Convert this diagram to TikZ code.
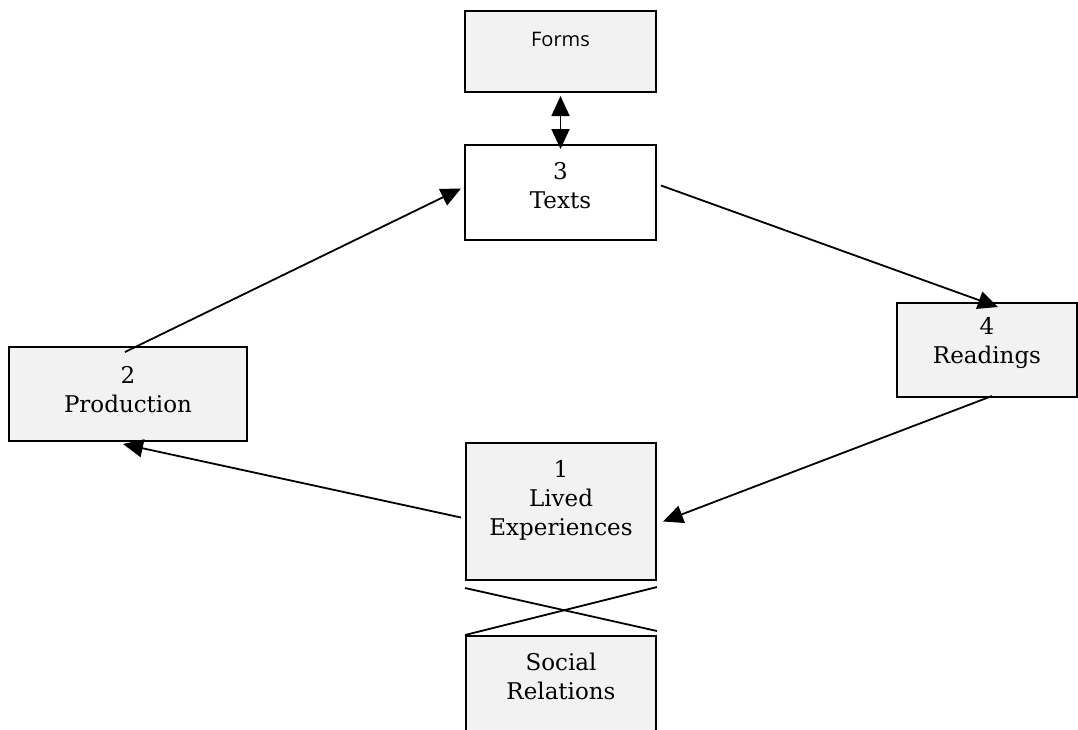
\documentclass[tikz,border=0pt]{standalone}
\usepackage{fontspec}
\setmainfont{DejaVu Serif}
\newfontfamily\formsfont{Open Sans}
\usetikzlibrary{arrows.meta,calc}
\definecolor{boxgray}{HTML}{F2F2F2}

\begin{document}
\begin{tikzpicture}[x=1pt,y=-1pt,>={Triangle[length=20pt,width=18pt]},line width=1.8pt]
  \tikzset{every node/.style={font=\fontsize{23}{29}\selectfont},
           box/.style={draw,line width=2pt,fill=boxgray,inner sep=0pt},
           boxtext/.style={anchor=north,align=center,yshift=-14pt}}

  \clip (0,0) rectangle (1078,729);
  \fill[white] (0,0) rectangle (1078,729);

  \node[box,minimum width=191pt,minimum height=81pt,
        label={[boxtext,font=\formsfont\fontsize{20}{24}\selectfont,yshift=-4pt]north:Forms}]
        (forms) at (560.5,51.5) {};
  \node[box,fill=white,minimum width=191pt,minimum height=95pt,
        label={[boxtext]north:3\\Texts}] (texts) at (560.5,192.5) {};
  \node[box,minimum width=238pt,minimum height=94pt,
        label={[boxtext,yshift=-2pt]north:2\\Production}] (prod) at (128,394) {};
  \node[box,minimum width=180pt,minimum height=94pt,
        label={[boxtext,yshift=3pt]north:4\\Readings}] (read) at (987,350) {};
  \node[box,minimum width=190pt,minimum height=137pt,
        label={[boxtext]north:1\\Lived\\Experiences}] (lived) at (561,511.5) {};
  \node[box,minimum width=190pt,minimum height=110pt,
        label={[boxtext]north:Social\\Relations}] (social) at (561,691) {};

  \draw[<->,shorten <=3pt,shorten >=-5pt] (forms.south) -- (texts.north);
  \draw[->] ($(prod.north)+(-3,6)$) -- ($(texts.west)+(-3,-4)$);
  \draw[->] ($(texts.east)+(4,-7)$) -- ($(read.north)+(11,5)$);
  \draw[->] ($(read.south)+(5,-2)$) -- ($(lived.east)+(6,10)$);
  \draw[->] ($(lived.west)+(-4,6)$) -- ($(prod.south)+(-5,2)$);

  % the crossing lines
  \draw ($(lived.south west)+(0,7)$) -- ($(social.north east)+(0,-4)$);
  \draw ($(lived.south east)+(0,6)$) -- (social.north west);
\end{tikzpicture}
\end{document}
